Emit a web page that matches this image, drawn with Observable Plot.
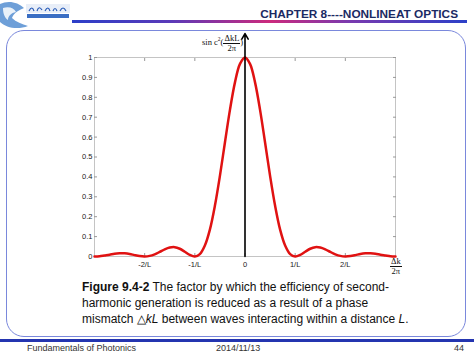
<!DOCTYPE html>
<html><head><meta charset="utf-8">
<script src="https://cdn.jsdelivr.net/npm/d3@7"></script>
<script src="https://cdn.jsdelivr.net/npm/@observablehq/plot@0.6"></script>
<style>
html,body{margin:0;padding:0;background:#fff;}
#page{position:relative;width:474px;height:355px;overflow:hidden;font-family:"Liberation Sans",Arial,sans-serif;}
#chart{position:absolute;left:0;top:0;}
#frame{position:absolute;left:6px;top:30px;width:458px;height:305px;border:1.5px solid #7a88dc;border-radius:18px;}
#title{position:absolute;right:16px;top:7px;font-weight:bold;font-size:11.8px;color:#1b2a63;white-space:nowrap;}
#gradline{position:absolute;left:72px;top:20px;width:395px;height:3px;background:linear-gradient(to right,#2c3fc8 0%,#5a3ab8 25%,#cc2a7c 50%,#7a3aae 70%,#2c40c8 100%);}
#footline{position:absolute;left:0;top:339px;width:474px;height:3px;background:#2435b0;}
.foot{position:absolute;top:343px;font-size:9px;color:#333;white-space:nowrap;}
#caption{position:absolute;left:82px;top:279px;font-size:12px;line-height:16px;color:#111;white-space:nowrap;}
.mathlab{position:absolute;font-family:"Liberation Serif","Times New Roman",serif;color:#111;font-size:8.5px;white-space:nowrap;}
.frac{display:inline-block;vertical-align:middle;text-align:center;line-height:8.5px;}
.frac .num{display:block;border-bottom:0.8px solid #111;padding:0 1px;}
.frac .den{display:block;}
</style></head><body><div id="page">
<div id="frame"></div>
<svg id="logo" width="74" height="30" style="position:absolute;left:0;top:0">
  <path d="M0,4 C8,0 18,2 24,8 C20,10 14,12 12,18 C16,22 22,24 28,26 C18,30 6,28 0,22 Z" fill="#6e9fd8"/>
  <path d="M3,8 C9,6 14,8 16,12 C11,13 8,16 8,20 C5,18 3,14 3,8 Z" fill="#ffffff" opacity="0.85"/>
  <rect x="26" y="4" width="44" height="9" fill="#e8eef8"/>
  <rect x="27" y="14" width="42" height="4" fill="#3a6ec4"/>
  <path d="M29,11 q3,-6 5,0 M37,11 q2,-6 5,-1 M45,11 q3,-6 5,0 M53,11 q2,-5 4,0 M60,11 q3,-6 6,0" stroke="#2a5cb8" stroke-width="1.2" fill="none"/>
</svg>
<div id="title">CHAPTER 8----NONLINEAT OPTICS</div>
<div id="gradline"></div>
<div id="chart"></div>
<div class="mathlab" style="left:202px;top:34px;">sin c<sup style="font-size:5.5px">2</sup>(<span class="frac"><span class="num">ΔkL</span><span class="den">2π</span></span>)</div>
<div class="mathlab" style="left:390px;top:257px;"><span class="frac"><span class="num">Δk</span><span class="den">2π</span></span></div>
<div id="caption"><b>Figure 9.4-2</b> The factor by which the efficiency of second-<br>harmonic generation is reduced as a result of a phase<br>mismatch △<i>kL</i> between waves interacting within a distance <i>L</i>.</div>
<div id="footline"></div>
<div class="foot" style="left:27px;">Fundamentals of Photonics</div>
<div class="foot" style="left:216px;">2014/11/13</div>
<div class="foot" style="left:454px;">44</div>
</div>
<script>
// x in units of 1/L (ΔkL/2π), y = sinc^2
const xs = [-3,-2.9,-2.8,-2.7,-2.6,-2.5,-2.4,-2.3,-2.2,-2.1,-2,-1.9,-1.8,-1.7,-1.6,-1.5,-1.4,-1.3,-1.2,-1.1,-1,-0.9,-0.8,-0.7,-0.6,-0.5,-0.4,-0.3,-0.2,-0.1,0,0.1,0.2,0.3,0.4,0.5,0.6,0.7,0.8,0.9,1,1.1,1.2,1.3,1.4,1.5,1.6,1.7,1.8,1.9,2,2.1,2.2,2.3,2.4,2.5,2.6,2.7,2.8,2.9,3];
const ys = [0,0.001,0.005,0.009,0.014,0.016,0.016,0.013,0.007,0.002,0,0.003,0.011,0.023,0.036,0.045,0.047,0.039,0.024,0.008,0,0.012,0.055,0.135,0.255,0.405,0.573,0.737,0.875,0.968,1,0.968,0.875,0.737,0.573,0.405,0.255,0.135,0.055,0.012,0,0.008,0.024,0.039,0.047,0.045,0.036,0.023,0.011,0.003,0,0.002,0.007,0.013,0.016,0.016,0.014,0.009,0.005,0.001,0];
const xTicks = [-2,-1,0,1,2];
const xTickLabels = ["-2/L","-1/L","0","1/L","2/L"];
const yTicks = [0,0.1,0.2,0.3,0.4,0.5,0.6,0.7,0.8,0.9,1];
const arrowTop = 1.12;

const data = xs.map((x,i)=>({x, y: ys[i]}));
const tickFont = {fontSize: 7.5, fill: "#1a1a1a"};
const chart = Plot.plot({
  width: 474, height: 355,
  marginLeft: 94, marginRight: 79, marginTop: 57, marginBottom: 99,
  style: {fontFamily: "Liberation Sans, Arial, sans-serif", background: "transparent", overflow: "visible"},
  x: {domain: [-3,3]},
  y: {domain: [0,1]},
  marks: [
    Plot.frame({stroke: "#c4c4c4"}),
    Plot.axisY(yTicks, {anchor: "left", tickSize: -3, tickPadding: 5, stroke: "#999", tickFormat: d => String(d), ...tickFont, label: null}),
    Plot.axisY(yTicks, {anchor: "right", tickSize: -3, stroke: "#999", tickFormat: () => "", label: null}),
    Plot.axisX(xTicks, {anchor: "bottom", tickSize: -3, tickPadding: 8, stroke: "#999", tickFormat: (d,i) => xTickLabels[xTicks.indexOf(d)], ...tickFont, label: null}),
    Plot.axisX(xTicks, {anchor: "top", tickSize: -3, stroke: "#999", tickFormat: () => "", label: null}),
    Plot.line(data, {x: "x", y: "y", stroke: "#e01212", strokeWidth: 2.5, curve: "catmull-rom"}),
    Plot.arrow([0], {x1: 0, y1: 0, x2: 0, y2: arrowTop, stroke: "#000", strokeWidth: 1.6, headLength: 6, clip: false})
  ]
});
document.getElementById("chart").appendChild(chart);
</script>
</body></html>
